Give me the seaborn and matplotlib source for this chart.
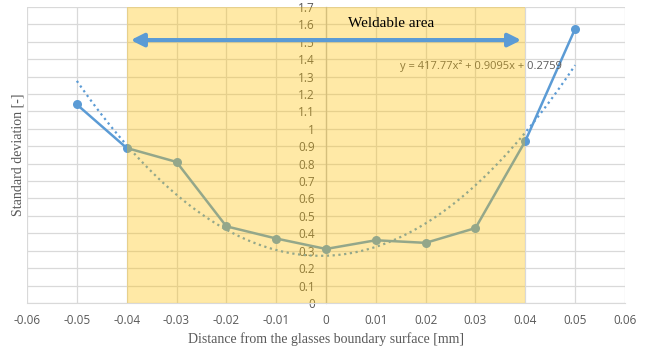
import matplotlib
matplotlib.use("Agg")
import matplotlib.pyplot as plt
import numpy as np
import pandas as pd
import seaborn as sns

distance = [-0.05, -0.04, -0.03, -0.02, -0.01, 0.0, 0.01, 0.02, 0.03, 0.04, 0.05]
std_dev = [1.14, 0.89, 0.81, 0.44, 0.37, 0.31, 0.36, 0.345, 0.43, 0.93, 1.575]

x_ticks = [-0.06, -0.05, -0.04, -0.03, -0.02, -0.01, 0, 0.01, 0.02, 0.03, 0.04, 0.05, 0.06]
x_labels = ["-0.06", "-0.05", "-0.04", "-0.03", "-0.02", "-0.01", "0",
            "0.01", "0.02", "0.03", "0.04", "0.05", "0.06"]
y_ticks = [round(0.1 * i, 1) for i in range(18)]
y_labels = ["0", "0.1", "0.2", "0.3", "0.4", "0.5", "0.6", "0.7", "0.8", "0.9",
            "1", "1.1", "1.2", "1.3", "1.4", "1.5", "1.6", "1.7"]

weld_area = (-0.04, 0.04)
equation = "y = 417.77x² + 0.9095x + 0.2759"

BLUE = "#5B9BD5"
GRID = "#D9D9D9"
TICK = "#595959"
SANS = "Open Sans"
SERIF = "Liberation Serif"


def main():
    sns.set_style("white")
    df = pd.DataFrame({"distance": distance, "std": std_dev})

    fig = plt.figure(figsize=(6.51, 3.51), dpi=100)
    ax = fig.add_axes([0.0415, 0.137, 0.9185, 0.843])
    ax.set_axisbelow(True)

    # spines first: moving a spine resets the tick label styling
    for side in ["top", "right"]:
        ax.spines[side].set_visible(False)
    ax.spines["bottom"].set_color(GRID)
    ax.spines["left"].set_position(("data", 0))
    ax.spines["left"].set_color("#BFBFBF")
    ax.spines["left"].set_linewidth(0.9)

    sns.regplot(data=df, x="distance", y="std", order=2, ci=None, scatter=False,
                color=BLUE, line_kws=dict(linestyle=(0, (1, 1.6)), linewidth=1.6),
                ax=ax)
    sns.lineplot(data=df, x="distance", y="std", color=BLUE, marker="o",
                 markersize=6.5, markeredgewidth=0, linewidth=1.8, ax=ax,
                 zorder=3)

    ax.set_xlim(-0.06, 0.06)
    ax.set_ylim(0, 1.7)
    ax.set_xticks(x_ticks)
    ax.set_xticklabels(x_labels, fontsize=8.5, color=TICK, family=SANS)
    ax.set_yticks(y_ticks)
    ax.set_yticklabels(y_labels, fontsize=8.5, color=TICK, family=SANS)
    ax.tick_params(axis="both", length=0)
    ax.tick_params(axis="x", pad=8)
    ax.tick_params(axis="y", pad=8)
    ax.grid(True, color=GRID, linewidth=0.9)

    ax.text(0.0311, 1.362, equation, ha="center", va="center", fontsize=8,
            color=TICK, family=SANS, zorder=3)

    ax.axvspan(*weld_area, color="#FFC000", alpha=0.35, linewidth=0, zorder=4)

    ax.annotate("", xy=(weld_area[0] + 0.0008, 1.51), xytext=(weld_area[1] - 0.0008, 1.51),
                arrowprops=dict(arrowstyle="<|-|>", color=BLUE, lw=3.0,
                                mutation_scale=19, shrinkA=0, shrinkB=0),
                zorder=5)
    ax.text(0.013, 1.603, "Weldable area", ha="center", va="center",
            fontsize=11, color="black", family=SERIF, zorder=5)

    ax.set_xlabel("Distance from the glasses boundary surface [mm]",
                  fontsize=10, color=TICK, family=SERIF)
    ax.set_ylabel("Standard deviation [-]", fontsize=10, color=TICK, family=SERIF)
    ax.xaxis.set_label_coords(0.5, -0.1)
    ax.yaxis.set_label_coords(-0.005, 0.5)

    fig.savefig("out.png", dpi=100)


if __name__ == "__main__":
    main()
